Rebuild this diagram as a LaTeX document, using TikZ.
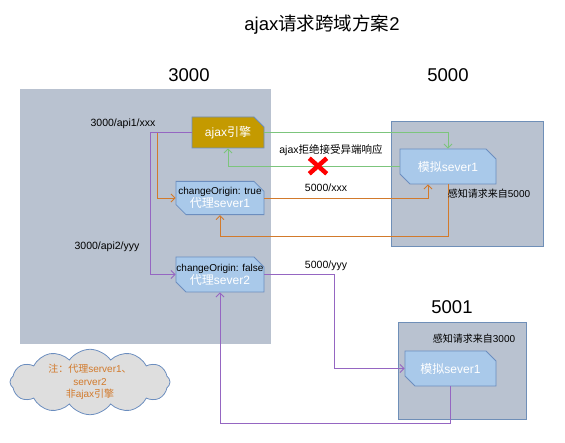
\documentclass[tikz,border=0pt]{standalone}
\usepackage{fontspec}
\setmainfont{Liberation Sans}
\newfontfamily\zhfont{Noto Sans CJK SC}
\newcommand{\zhtxt}[1]{{\zhfont #1}}
\usetikzlibrary{arrows.meta,shapes.misc,shapes.symbols,positioning,calc}

\definecolor{hostgray}{HTML}{B9C2D0}
\definecolor{hostedge}{HTML}{6F8FB8}
\definecolor{nodeblue}{HTML}{A9C9EA}
\definecolor{nodeedge}{HTML}{6C8EBF}
\definecolor{engold}{HTML}{C49A00}
\definecolor{lgreen}{HTML}{7CC57C}
\definecolor{lorange}{HTML}{D27A2C}
\definecolor{lpurple}{HTML}{9566C2}
\definecolor{cloudgray}{HTML}{DEDEDE}

\begin{document}
\begin{tikzpicture}[x=1pt,y=-1pt]

	\tikzstyle{host}=[rectangle,fill=hostgray,draw=hostedge,line width=0.8pt,inner sep=0pt]
	\tikzstyle{server}=[chamfered rectangle,chamfered rectangle corners={north east,south west},
		chamfered rectangle xsep=5pt,chamfered rectangle ysep=5pt,
		fill=nodeblue,draw=nodeedge,line width=0.8pt,text=white,
		align=center,inner sep=1pt,font=\fontsize{12}{13}\selectfont]
	\tikzstyle{engine}=[chamfered rectangle,chamfered rectangle corners=north east,
		chamfered rectangle xsep=5pt,chamfered rectangle ysep=5pt,
		fill=engold,draw=nodeedge,line width=0.8pt,text=white,
		inner sep=1pt,font=\fontsize{12}{13}\selectfont]
	\tikzstyle{port}=[font=\fontsize{18.5}{21}\selectfont]
	\tikzstyle{label}=[font=\fontsize{10.5}{12}\selectfont,inner sep=1pt]
	\tikzstyle{arrow}=[-{Straight Barb[length=4pt,width=8pt]},line width=0.9pt]
	\newcommand{\origin}[1]{\makebox[0pt]{\fontsize{10}{11}\selectfont\color{black}changeOrigin: #1}}

	\useasboundingbox (0,0) rectangle (565,443);

	\node[port] (title) at (322,25) {ajax\zhtxt{请求跨域方案}2};

	% hosts
	\node[host,draw=none,minimum width=251,minimum height=255] (host3000) at (145.5,216.5) {};
	\node[host,minimum width=152,minimum height=125] (host5000) at (467,183.5) {};
	\node[host,minimum width=128,minimum height=97] (host5001) at (462,370.5) {};
	\node[port] (port3000) at (189,75) {3000};
	\node[port] (port5000) at (448,75) {5000};
	\node[port] (port5001) at (452,307) {5001};

	% servers
	\node[engine,minimum width=72,minimum height=31] (ajax) at (228,132.5) {ajax\zhtxt{引擎}};
	\node[server,minimum width=88,minimum height=32] (proxy1) at (220,198)
		{\origin{true}\\\zhtxt{代理}sever1};
	\node[server,minimum width=88,minimum height=35] (proxy2) at (220,274.5)
		{\origin{false}\\\zhtxt{代理}sever2};
	\node[server,minimum width=96,minimum height=35] (mock5000) at (448,166.5) {\zhtxt{模拟}sever1};
	\node[server,minimum width=91,minimum height=35] (mock5001) at (450.5,368.5) {\zhtxt{模拟}sever1};

	\coordinate (split1) at (157,132.5);
	\coordinate (split2) at (150,132.5);
	\coordinate (turn2) at (334,274.5);
	\coordinate (back1) at ($(mock5000.south)+(0,52)$);
	\coordinate (back2) at ($(mock5001.south)+(0,37)$);

	% connectors
	\draw[arrow,lgreen] (ajax.east) -| (mock5000.north);
	\draw[arrow,lgreen] (mock5000.west) -| (ajax.south);
	\draw[arrow,lorange] (ajax.west) -- (split1) |- (proxy1.west);
	\draw[arrow,lorange] (proxy1.east) -| ($(mock5000.south)+(-20,0)$);
	\draw[arrow,lorange] (mock5000.south) -- (back1) -| (proxy1.south);
	\draw[arrow,lpurple] (ajax.west) -- (split2) |- (proxy2.west);
	\draw[arrow,lpurple] (proxy2.east) -- (turn2) |- (mock5001.west);
	\draw[arrow,lpurple] (mock5001.south) -- (back2) -| (proxy2.south);

	% labels
	\node[label] (api1) at (123,124) {3000/api1/xxx};
	\node[label] (api2) at (107,247) {3000/api2/yyy};
	\node[label] (refuse) at (331,150) {ajax\zhtxt{拒绝接受异端响应}};
	\node[cross out,draw=red,line width=4.5pt,minimum width=13pt,minimum height=11pt,inner sep=0pt] (reject) at (318,166) {};
	\node[label] (xxx) at (326,188) {5000/xxx};
	\node[label] (yyy) at (326,266) {5000/yyy};
	\node[label,font=\fontsize{10}{12}\selectfont] (sense5000) at (489,194) {\zhtxt{感知请求来自}5000};
	\node[label,font=\fontsize{10}{12}\selectfont] (sense3000) at (474,339) {\zhtxt{感知请求来自}3000};

	% note
	\node[cloud,cloud puffs=12,cloud puff arc=110,aspect=2.5,fill=cloudgray,draw=nodeedge,
		line width=0.8pt,minimum width=160,minimum height=64,inner sep=0pt,
		text=lorange,align=center,font=\fontsize{10}{12.5}\selectfont] (note) at (90,382)
		{\zhtxt{注：代理}server1\zhtxt{、}\\server2\\\zhtxt{非}ajax\zhtxt{引擎}};

\end{tikzpicture}
\end{document}
